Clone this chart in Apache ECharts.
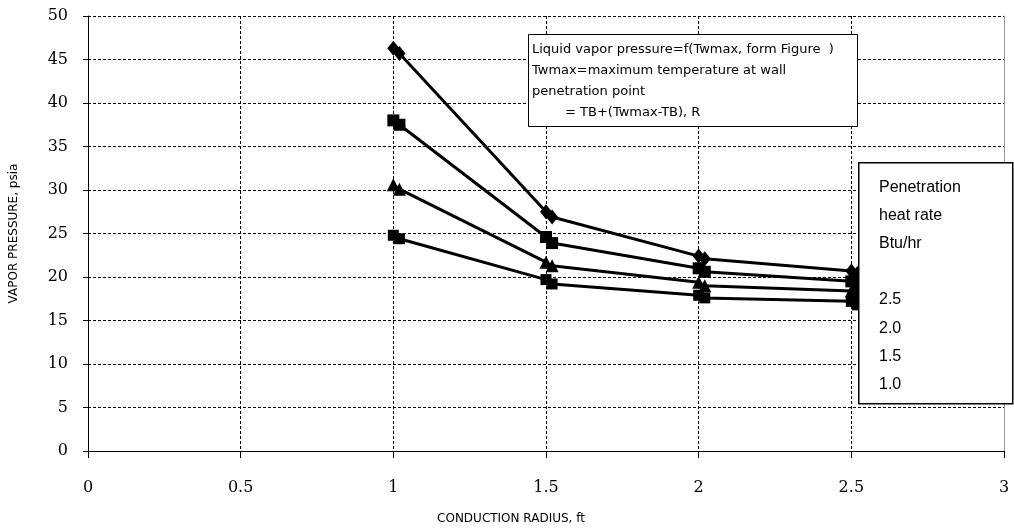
<!DOCTYPE html>
<html><head><meta charset="utf-8">
<script src="https://cdn.jsdelivr.net/npm/echarts@6/dist/echarts.min.js"></script>
<style>html,body{margin:0;padding:0;background:#fff}#c{width:1014px;height:531px}</style>
</head><body><div id="c"></div>
<script>
// Conduction radius (ft); each point is plotted twice with a small offset, as in the reference
const radius = [1, 1.02, 1.5, 1.52, 2, 2.02, 2.5, 2.52];
// Vapor pressure (psia) per penetration heat rate
const p25 = [46.3, 45.7, 27.5, 26.9, 22.4, 22.1, 20.7, 20.4];
const p20 = [38.0, 37.5, 24.6, 23.9, 21.0, 20.6, 19.5, 19.1];
const p15 = [30.6, 30.1, 21.7, 21.3, 19.4, 19.0, 18.4, 18.1];
const p10 = [24.8, 24.4, 19.7, 19.2, 17.9, 17.6, 17.2, 16.8];
const xTicks = ['0', '0.5', '1', '1.5', '2', '2.5', '3'];
const noteLines = [
  'Liquid vapor pressure=f(Twmax, form Figure  )',
  'Twmax=maximum temperature at wall',
  'penetration point',
  '        = TB+(Twmax-TB), R'
];
const legendLines = ['Penetration', 'heat rate', 'Btu/hr', '', '2.5', '2.0', '1.5', '1.0'];

const pts = ys => radius.map((x, i) => [x, ys[i]]);
const mk = (name, ys, symbol, size) => ({
  name, type: 'line', data: pts(ys), symbol, symbolSize: size,
  lineStyle: {color: '#000', width: 3}, itemStyle: {color: '#000'},
  showAllSymbol: true, animation: false, z: 5
});

const chart = echarts.init(document.getElementById('c'), null, {renderer: 'canvas'});
chart.setOption({
  animation: false,
  grid: {left: 84, right: 10, top: 16, bottom: 80, containLabel: false},
  xAxis: {
    type: 'value', min: 0, max: 3, interval: 0.5,
    name: 'CONDUCTION RADIUS, ft', nameLocation: 'middle', nameGap: 62,
    nameTextStyle: {fontFamily: 'DejaVu Sans', fontSize: 12, color: '#000', padding: [0, 70, 0, 0]},
    axisLine: {show: true, lineStyle: {color: '#000', width: 1}},
    axisTick: {show: true, length: 7, lineStyle: {color: '#000'}},
    axisLabel: {margin: 29, fontFamily: 'DejaVu Serif', fontSize: 16, color: '#000',
      formatter: v => xTicks[Math.round(v / 0.5)]},
    splitLine: {show: true, lineStyle: {color: '#000', type: [3, 2], width: 1}}
  },
  yAxis: [{
    type: 'value', min: 0, max: 50, interval: 5,
    name: 'VAPOR PRESSURE, psia', nameLocation: 'middle', nameGap: 68,
    nameTextStyle: {fontFamily: 'DejaVu Sans', fontSize: 12, color: '#000'},
    axisLine: {show: true, lineStyle: {color: '#000', width: 1}},
    axisTick: {show: true, length: 5, lineStyle: {color: '#000'}},
    axisLabel: {margin: 20, fontFamily: 'DejaVu Serif', fontSize: 16, color: '#000'},
    splitLine: {show: true, lineStyle: {color: '#000', type: [3, 2], width: 1}}
  }, {
    type: 'value', min: 0, max: 50, interval: 5, position: 'right',
    axisLine: {show: true, onZero: false, lineStyle: {color: '#999', width: 1}},
    axisTick: {show: false}, axisLabel: {show: false}, splitLine: {show: false}
  }],
  series: [
    mk('2.5', p25, 'diamond', [12, 15]),
    mk('2.0', p20, 'rect', 12),
    mk('1.5', p15, 'triangle', 13),
    mk('1.0', p10, 'rect', 11)
  ],
  graphic: [
    {type: 'rect', left: 528, top: 34, shape: {width: 329, height: 92}, z: 10,
      style: {fill: '#fff', stroke: '#000', lineWidth: 1}},
    {type: 'text', left: 532, top: 39, z: 11,
      style: {text: noteLines.join('\n'), fill: '#000', font: '13px "DejaVu Sans"', lineHeight: 21}},
    {type: 'rect', left: 858, top: 162, shape: {width: 154, height: 241}, z: 10,
      style: {fill: '#fff', stroke: '#000', lineWidth: 1.5}},
    {type: 'text', left: 879, top: 173, z: 11,
      style: {text: legendLines.join('\n'), fill: '#000', font: '16px "Liberation Sans"', lineHeight: 28.2}}
  ]
});
</script></body></html>
